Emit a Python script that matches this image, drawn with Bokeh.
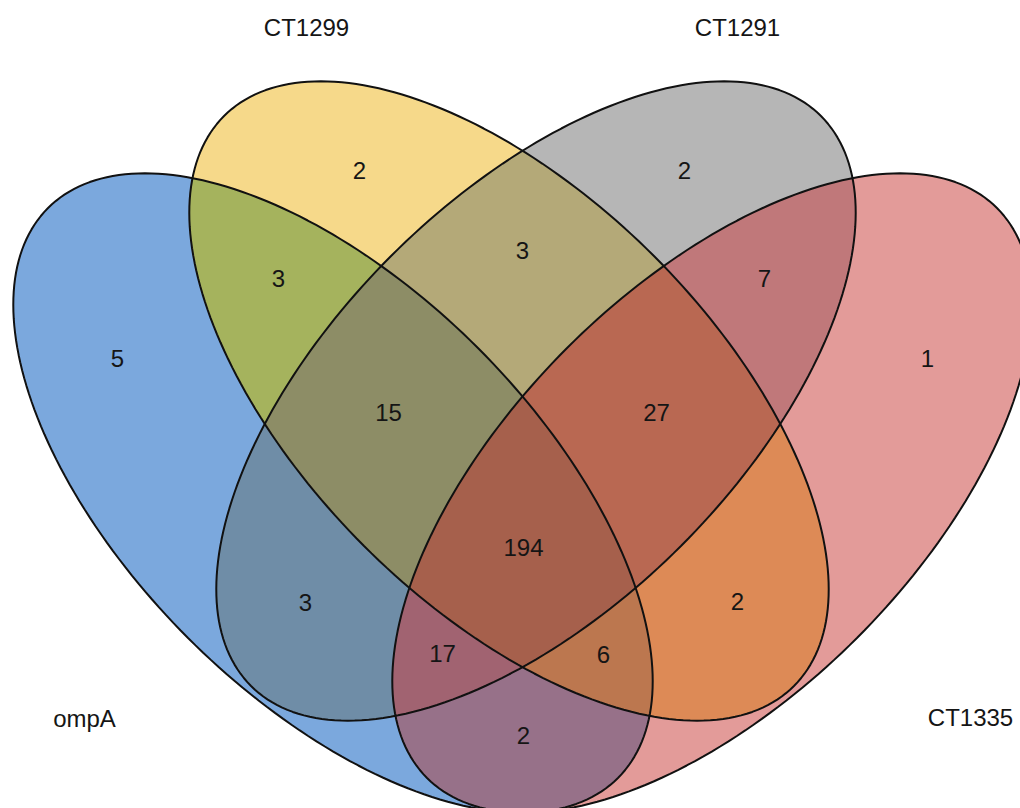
import math
import numpy as np
from bokeh.plotting import figure
from bokeh.models import Range1d, ColumnDataSource
from bokeh.core.properties import value
from bokeh.embed import file_html
from bokeh.resources import INLINE

# ---------------- data ----------------
set_names = ["ompA", "CT1299", "CT1291", "CT1335"]
# region membership (ompA, CT1299, CT1291, CT1335) and counts
region_members = ["1000", "0100", "0010", "0001",
                  "1100", "1010", "1001", "0110", "0101", "0011",
                  "1110", "1101", "1011", "0111", "1111"]
region_counts = [5, 2, 2, 1,
                 3, 3, 2, 3, 2, 7,
                 15, 6, 17, 27, 194]
region_colors = ["#7BA8DD", "#F6D98A", "#B6B6B6", "#E39B99",
                 "#A5B35D", "#6F8DA7", "#977189", "#B4A978", "#DD8A56", "#C0787A",
                 "#8D8D66", "#BC774F", "#A16371", "#B96852", "#A6604C"]

# ---------------- layout (pixel-like units, y measured downward) ----------------
ell_cx = [332.5, 508.5, 535.5, 711.5]
ell_cy = [492.5, 400.5, 400.5, 492.5]
ell_a = 403.0
ell_b = 205.0
ell_angle_deg = [-45.0, -45.0, 45.0, 45.0]

count_pos = {
    "1000": (117, 358), "0100": (359, 170), "0010": (684, 170), "0001": (927, 358),
    "1100": (278, 278), "1010": (305, 602), "1001": (523, 735), "0110": (522, 250),
    "0101": (737, 601), "0011": (764, 278), "1110": (388, 412), "1101": (603, 654),
    "1011": (442, 653), "0111": (656, 412), "1111": (523, 547),
}
label_pos = [(84, 718), (306, 27), (737, 27), (970, 717)]

W, H = 1020, 808
N = 240


def ellipse_poly(cx, cy_img, a, b, ang_deg):
    th = math.radians(ang_deg)
    pts = []
    cy = -cy_img
    for k in range(N):
        t = 2 * math.pi * k / N
        x = cx + a * math.cos(t) * math.cos(th) - b * math.sin(t) * math.sin(th)
        y = cy + a * math.cos(t) * math.sin(th) + b * math.sin(t) * math.cos(th)
        pts.append((x, y))
    return pts


def inside(p, a, b):
    return (b[0] - a[0]) * (p[1] - a[1]) - (b[1] - a[1]) * (p[0] - a[0]) >= 0


def inter(s, e, a, b):
    x1, y1 = s; x2, y2 = e; x3, y3 = a; x4, y4 = b
    den = (x1 - x2) * (y3 - y4) - (y1 - y2) * (x3 - x4)
    if abs(den) < 1e-12:
        return e
    t = ((x1 - x3) * (y3 - y4) - (y1 - y3) * (x3 - x4)) / den
    return (x1 + t * (x2 - x1), y1 + t * (y2 - y1))


def clip(subject, clipper):
    out = subject
    n = len(clipper)
    for i in range(n):
        if not out:
            break
        a = clipper[i]; b = clipper[(i + 1) % n]
        inp = out
        out = []
        s = inp[-1]
        for e in inp:
            if inside(e, a, b):
                if not inside(s, a, b):
                    out.append(inter(s, e, a, b))
                out.append(e)
            elif inside(s, a, b):
                out.append(inter(s, e, a, b))
            s = e
    return out


ellipses = [ellipse_poly(ell_cx[i], ell_cy[i], ell_a, ell_b, ell_angle_deg[i]) for i in range(4)]

# painter's order: by number of sets in the intersection
order = sorted(range(len(region_members)), key=lambda k: region_members[k].count("1"))
xs, ys, cols = [], [], []
for k in order:
    mem = [i for i, c in enumerate(region_members[k]) if c == "1"]
    poly = ellipses[mem[0]]
    for i in mem[1:]:
        poly = clip(poly, ellipses[i])
    if len(poly) < 3:
        continue
    xs.append([p[0] for p in poly])
    ys.append([p[1] for p in poly])
    cols.append(region_colors[k])

p = figure(width=W, height=H, output_backend="svg", toolbar_location=None,
           x_range=Range1d(0, W), y_range=Range1d(-H, 0), min_border=0)
p.axis.visible = False
p.grid.visible = False
p.outline_line_color = None
p.background_fill_color = "white"
p.border_fill_color = "white"

p.patches(xs="xs", ys="ys", fill_color="c", line_color=None,
          source=ColumnDataSource(dict(xs=xs, ys=ys, c=cols)))

p.patches(xs=[[q[0] for q in e] for e in ellipses], ys=[[q[1] for q in e] for e in ellipses],
          fill_color=None, line_color="#111111", line_width=2)

txt_x = [count_pos[m][0] for m in region_members]
txt_y = [-count_pos[m][1] for m in region_members]
p.text(x=txt_x, y=txt_y, text=[str(c) for c in region_counts],
       text_font=value("Liberation Sans"), text_font_size="24px", text_color="#151515",
       text_align="center", text_baseline="middle")

p.text(x=[q[0] for q in label_pos], y=[-q[1] for q in label_pos], text=set_names,
       text_font=value("Liberation Sans"), text_font_size="24px", text_color="#151515",
       text_align="center", text_baseline="middle")

open("out.html", "w").write(file_html(p, INLINE))
